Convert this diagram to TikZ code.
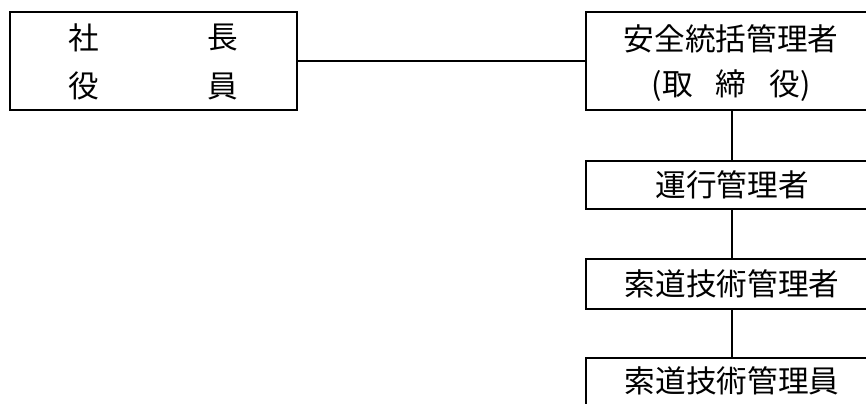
\documentclass[tikz,border=0pt]{standalone}
\usepackage{fontspec}
\setmainfont{Noto Sans CJK JP}
\begin{document}
\begin{tikzpicture}[x=0.75pt,y=-0.75pt,
  box/.style={draw,line width=1.5pt,rectangle,inner sep=0pt},
  lbl/.style={inner sep=0pt,font=\fontsize{23pt}{27pt}\selectfont},
  conn/.style={line width=1.5pt}]
\useasboundingbox (0,0) rectangle (866,403);
\clip (0,0) rectangle (866,403);
% left box
\node[box,minimum width=287*0.75pt,minimum height=98*0.75pt] (pres) at (153.5,61) {};
\node[lbl] (t1) at (84,38) {社};
\node[lbl] (t2) at (223,38) {長};
\node[lbl] (t3) at (84,86) {役};
\node[lbl] (t4) at (223,86) {員};
% right boxes
\node[box,minimum width=292*0.75pt,minimum height=98*0.75pt] (safe) at (732,61) {};
\node[lbl] (s1) at (731,39) {安全統括管理者};
\node[lbl] (s2) at (731,86) {(取\hspace{0.75em}締\hspace{0.75em}役)};
\node[box,lbl,minimum width=292*0.75pt,minimum height=48*0.75pt] (op) at (732,185) {運行管理者};
\node[box,lbl,minimum width=292*0.75pt,minimum height=50*0.75pt] (tech) at (732,284) {索道技術管理者};
\node[box,minimum width=292*0.75pt,minimum height=50*0.75pt] (staff) at (732,383) {};
\node[lbl] (st) at (732,381) {索道技術管理員};
% connectors
\draw[conn] (pres.east) -- (safe.west);
\draw[conn] (safe.south) -- (op.north);
\draw[conn] (op.south) -- (tech.north);
\draw[conn] (tech.south) -- (staff.north);
\end{tikzpicture}
\end{document}
